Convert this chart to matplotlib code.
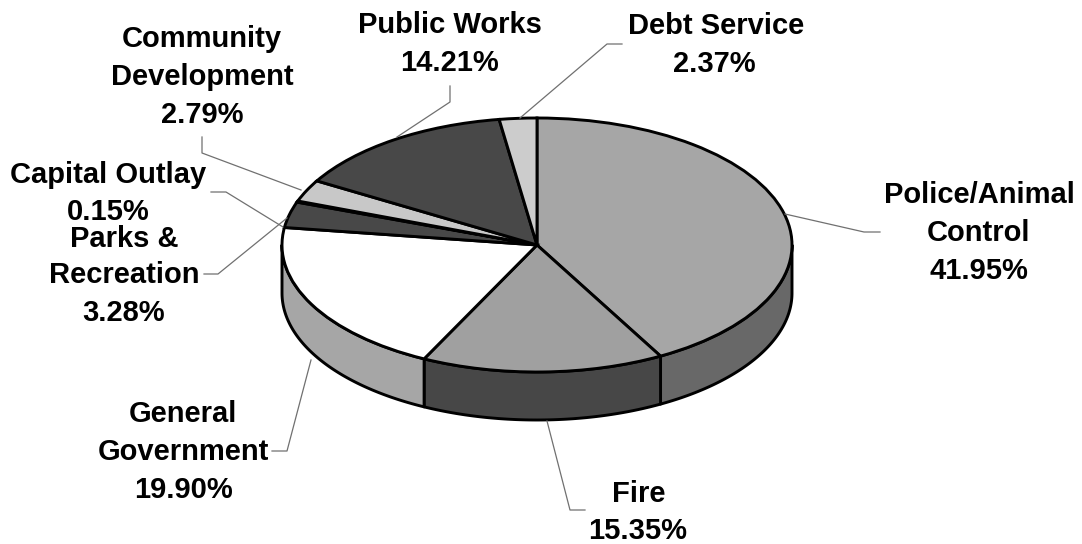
import numpy as np
import matplotlib
matplotlib.use('Agg')
from matplotlib import pyplot as plt

W = 1082
H = 544

# slices, clockwise from 12 o'clock
shares = [41.95, 15.35, 19.90, 3.28, 0.15, 2.79, 14.21, 2.37]
top_cols = ['#a6a6a6', '#a0a0a0', '#ffffff', '#484848', '#a0a0a0', '#c8c8c8', '#484848', '#cccccc']
side_cols = ['#686868', '#474747', '#a6a6a6', '#303030', '#686868', '#868686', '#303030', '#868686']

# label lines: text, centre x, baseline y
label_text = ['Community', 'Development', '2.79%',
              'Capital Outlay', '0.15%',
              'Parks &', 'Recreation', '3.28%',
              'General', 'Government', '19.90%',
              'Fire', '15.35%',
              'Public Works', '14.21%',
              'Debt Service', '2.37%',
              'Police/Animal', 'Control', '41.95%']
label_x = [202, 202, 202, 108, 108, 124, 124, 124, 183, 183, 183,
           639, 638, 450, 450, 716, 714, 979, 979, 979]
label_y = [47, 85, 123, 183, 220, 247, 283, 321, 422, 460, 498,
           502, 539, 33, 71, 34, 72, 203, 241, 279]

# leader lines in pixels
leaders = [
    [(202, 137), (202, 153), (301, 190)],
    [(211, 192), (226, 192), (283, 227)],
    [(204, 274), (218, 274), (287, 218)],
    [(272, 451), (287, 451), (311, 360)],
    [(585, 510), (570, 510), (547, 421)],
    [(450, 86), (450, 102), (397, 137)],
    [(622, 44), (607, 44), (520, 118)],
    [(880, 232), (864, 232), (785, 214)],
]

cx = 537.0
cy = 245.0
rx = 255.0
ry = 127.0
depth = 48.0 / ry

fig = plt.figure(figsize=(W / 100, H / 100), dpi=100, facecolor='white')

# unit circle axes, squashed to the ellipse of the pie top
ax = fig.add_axes([0, 0, 1, 1])
wedges, _ = ax.pie(shares, colors=top_cols, startangle=90, counterclock=False,
                   wedgeprops={'edgecolor': 'black', 'linewidth': 2.1})
for w in wedges:
    w.set_zorder(3)
ax.set_aspect('auto')
ax.set_xlim((0 - cx) / rx, (W - cx) / rx)
ax.set_ylim((cy - H) / ry, cy / ry)
ax.axis('off')

# the rim: only what is in the lower half of the ellipse can be seen
a0 = 90.0
for s, c in zip(shares, side_cols):
    a1 = a0 - s * 3.6
    lo = max(a1, -180.0)
    hi = min(a0, 0.0)
    if hi > lo:
        t = np.radians(np.linspace(hi, lo, 80))
        xs = np.concatenate([np.cos(t), np.cos(t[::-1])])
        ys = np.concatenate([np.sin(t), np.sin(t[::-1]) - depth])
        ax.fill(xs, ys, facecolor=c, edgecolor='black', linewidth=2.1,
                joinstyle='round', zorder=1)
    a0 = a1

# pixel axes for labels and leaders
ax2 = fig.add_axes([0, 0, 1, 1])
ax2.set_xlim(0, W)
ax2.set_ylim(H, 0)
ax2.axis('off')

for pts in leaders:
    ax2.plot([p[0] for p in pts], [p[1] for p in pts], color='#707070', lw=0.9)

for txt, x, y in zip(label_text, label_x, label_y):
    ax2.text(x, y, txt, ha='center', va='baseline', color='black',
             family='Liberation Sans', weight='bold', fontsize=21)

plt.savefig('out.png', dpi=100)
